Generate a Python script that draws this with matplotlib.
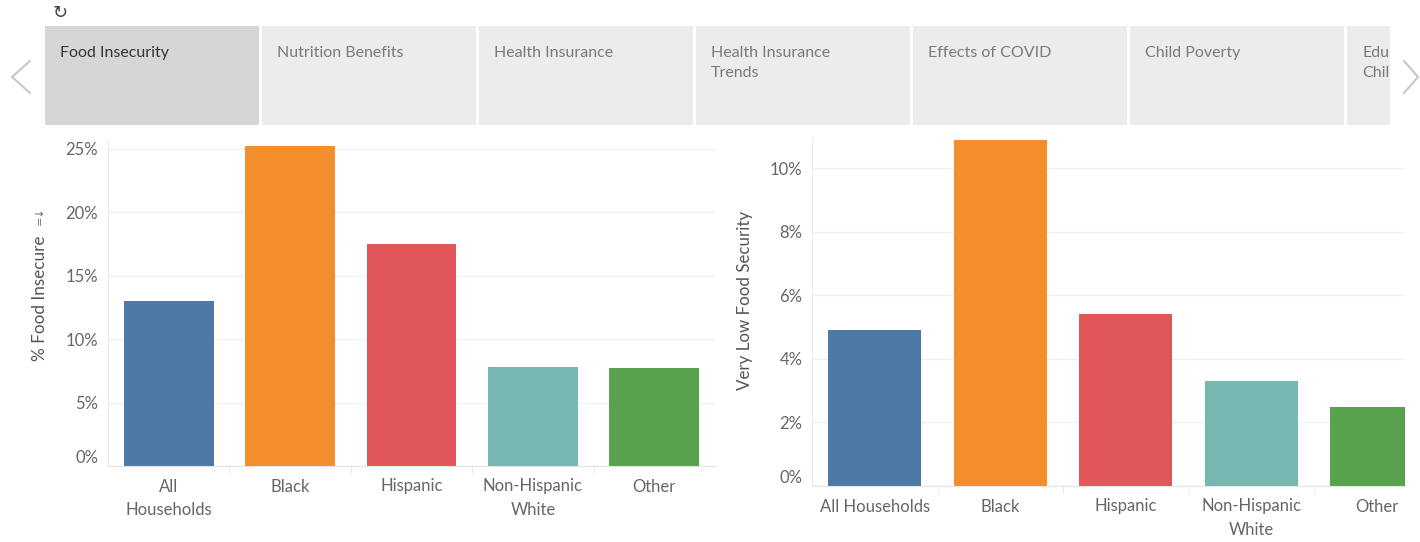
import matplotlib.pyplot as plt
from matplotlib.patches import Rectangle
from matplotlib.lines import Line2D
from matplotlib.ticker import FuncFormatter, MultipleLocator

plt.rcParams['font.family'] = ['Lato', 'DejaVu Sans']

# data
left_cats = ["All\nHouseholds", "Black", "Hispanic", "Non-Hispanic\nWhite", "Other"]
right_cats = ["All Households", "Black", "Hispanic", "Non-Hispanic\nWhite", "Other"]
food_insecure = [13.0, 25.2, 17.5, 7.8, 7.7]
very_low = [4.9, 10.9, 5.4, 3.3, 2.5]
bar_colors = ["#4e79a7", "#f28e2b", "#e15759", "#76b7b2", "#59a14f"]
tabs = ["Food Insecurity", "Nutrition Benefits", "Health Insurance",
        "Health Insurance\nTrends", "Effects of COVID", "Child Poverty", "Edu\nChil"]

W, H = 1420, 542
fig = plt.figure(figsize=(W / 100, H / 100), dpi=100)

def px(x, y):
    # pixel from top-left -> figure fraction
    return x / W, 1 - y / H

# tab strip
tab_w = 214
x0 = 45
for i, name in enumerate(tabs):
    left = x0 + i * (tab_w + 3)
    width = tab_w if i < len(tabs) - 1 else 1390 - left
    fx, fy = px(left, 125)
    fig.add_artist(Rectangle((fx, fy), width / W, 99 / H, transform=fig.transFigure,
                             facecolor="#d6d6d6" if i == 0 else "#ececec", edgecolor="none"))
    tx, ty = px(left + 15, 46)
    fig.text(tx, ty, name, fontsize=11.5, va="top", ha="left", linespacing=1.55,
             color="#333333" if i == 0 else "#7a7a7a", clip_on=False)

# arrows and refresh icon
for pts in ([(30, 61), (12, 77), (30, 93)], [(1404, 61), (1418, 77), (1404, 93)]):
    xs = [p[0] / W for p in pts]
    ys = [1 - p[1] / H for p in pts]
    fig.add_artist(Line2D(xs, ys, transform=fig.transFigure, color="#c8c8c8", lw=1.5))
fig.text(*px(60, 13), "\u21bb", fontsize=13, ha="center", va="center",
         color="#444444", family="DejaVu Sans")


def style(ax, cats, vals, ylim, step, xmax):
    x = range(len(cats))
    ax.bar(x, vals, width=0.74, color=bar_colors, zorder=2)
    ax.set_xlim(-0.5, xmax)
    ax.set_ylim(0, ylim)
    ax.yaxis.set_major_locator(MultipleLocator(step))
    ax.yaxis.set_major_formatter(FuncFormatter(lambda v, p: f"{v:.0f}%"))
    ax.grid(axis="y", color="#f0f0f0", lw=1, zorder=0)
    for s in ["top", "right"]:
        ax.spines[s].set_visible(False)
    ax.spines["left"].set_color("#ececec")
    ax.spines["bottom"].set_color("#e4e4e4")
    ax.set_xticks(list(x))
    ax.set_xticklabels(cats, linespacing=1.6)
    ax.set_xticks([i + 0.5 for i in range(len(cats) - 1)], minor=True)
    ax.tick_params(axis="x", which="major", length=0, pad=9, labelsize=12, labelcolor="#666666")
    ax.tick_params(axis="x", which="minor", length=5, color="#e4e4e4")
    ax.tick_params(axis="y", length=0, pad=7, labelsize=12, labelcolor="#666666")


ax1 = fig.add_axes([108 / W, (H - 466) / H, 607 / W, 326 / H])
style(ax1, left_cats, food_insecure, 25.7, 5, 4.5)
ax1.set_ylabel("% Food Insecure", fontsize=12.3, color="#555555", va="center")
ax1.yaxis.set_label_coords(-0.112, 0.515)
# sort icon above the axis title
fig.text(*px(40, 216), "=\u2193", rotation=90, fontsize=8, ha="center", va="center",
         color="#666666", family="DejaVu Sans")

ax2 = fig.add_axes([812 / W, (H - 486) / H, 593 / W, 348 / H])
style(ax2, right_cats, very_low, 10.95, 2, 4.225)
ax2.set_ylabel("Very Low Food Security", fontsize=12.2, color="#555555", va="center")
ax2.yaxis.set_label_coords(-0.113, 0.532)

# the 0% label sits raised above the baseline
fig.canvas.draw()
for ax in (ax1, ax2):
    for t in ax.yaxis.get_major_ticks():
        if abs(t.get_loc()) < 1e-9:
            t.label1.set_verticalalignment("bottom")

fig.savefig("out.png", dpi=100)
